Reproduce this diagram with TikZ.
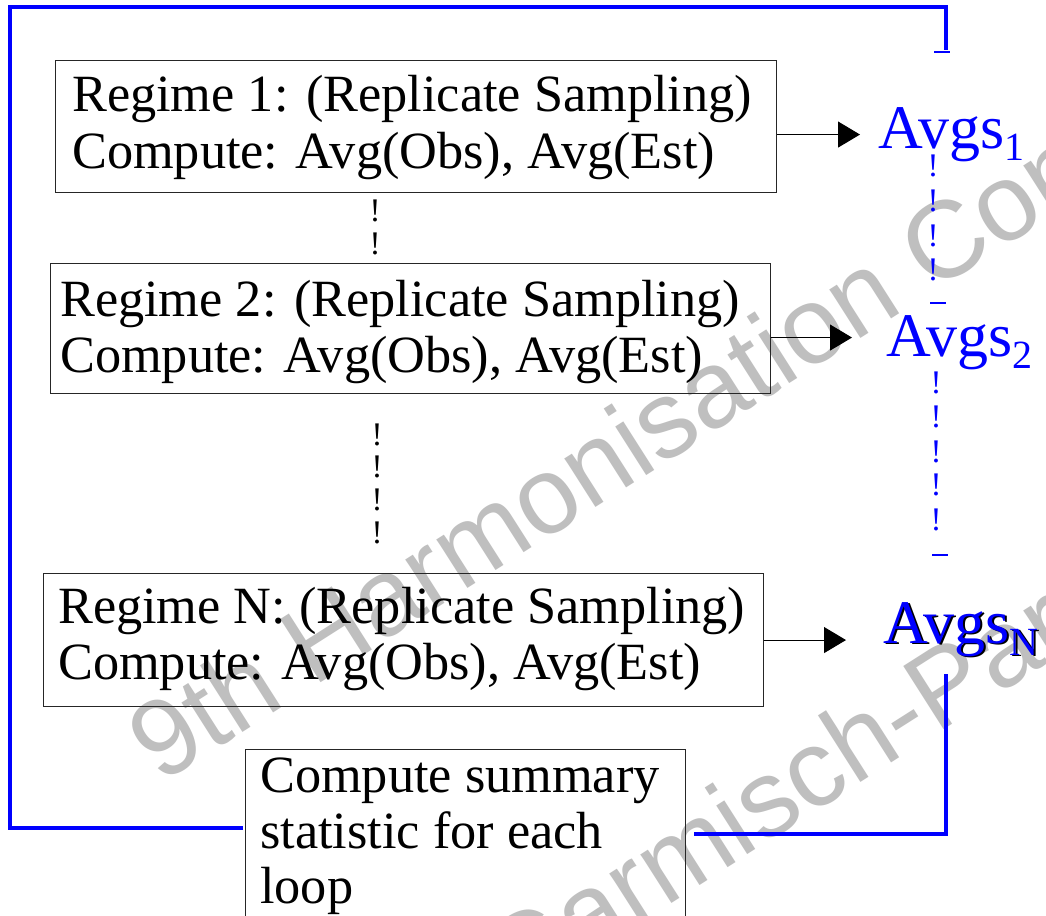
\documentclass[tikz,border=0pt]{standalone}
\usepackage{fontspec}
\setmainfont{Liberation Serif}
\newfontfamily\wmfont{Liberation Sans}
\usetikzlibrary{arrows.meta}
\definecolor{wmgray}{RGB}{191,191,191}
\definecolor{bblue}{RGB}{0,0,255}
\newcommand\avgsub[1]{\raisebox{-12pt}{\fontsize{40}{40}\selectfont #1}}
\begin{document}
\begin{tikzpicture}[x=1pt,y=-1pt,
  wm/.style={anchor=base west, inner sep=0pt, text=wmgray, rotate=32.5, font=\wmfont\fontsize{109}{109}\selectfont},
  regbox/.style={draw=black!85, line width=1.1pt, anchor=north west, inner sep=0pt},
  txt/.style={anchor=base west, inner sep=0pt, font=\fontsize{52.3}{56}\selectfont},
  avg/.style={anchor=base west, inner sep=0pt, text=bblue, font=\fontsize{62}{62}\selectfont},
  excl/.style={inner sep=0pt, font=\fontsize{33}{33}\selectfont},
  arr/.style={line width=1pt, -{Triangle[length=22pt,width=26pt]}},
  loopline/.style={draw=bblue, line width=3.5pt, line join=miter},
  bar/.style={draw=bblue, line width=1.8pt}]
\fill[white] (0,0) rectangle (1046,915);
\useasboundingbox (0,0) rectangle (1046,915);
% watermark
\begin{scope}
\clip (0,0) rectangle (1046,915);
\node[wm] (wm1) at (160,785) {9th Harmonisation Conference};
\node[wm] (wm2) at (512,1005) {Garmisch-Partenkirchen};
\end{scope}
% boxes
\node[regbox, minimum width=721pt, minimum height=132pt] (b1) at (55,60) {};
\node[regbox, minimum width=720pt, minimum height=130pt] (b2) at (50,263) {};
\node[regbox, minimum width=720pt, minimum height=133pt] (bN) at (43,573) {};
\node[regbox, minimum width=440pt, minimum height=220pt] (sum) at (245,749) {};
% texts
\node[txt] (t1a) at (72,112) {Regime 1: (Replicate Sampling)};
\node[txt] (t1b) at (72,168) {Compute: Avg(Obs), Avg(Est)};
\node[txt] (t2a) at (60,316) {Regime 2: (Replicate Sampling)};
\node[txt] (t2b) at (60,372) {Compute: Avg(Obs), Avg(Est)};
\node[txt] (tNa) at (58,623) {Regime N: (Replicate Sampling)};
\node[txt] (tNb) at (58,679) {Compute: Avg(Obs), Avg(Est)};
\node[txt] (s1) at (260,792) {Compute summary};
\node[txt] (s2) at (260,848) {statistic for each};
\node[txt] (s3) at (260,903) {loop};
% averages
\node[avg] (a1) at (878,148) {Avgs\avgsub{1}};
\node[avg] (a2) at (886,356) {Avgs\avgsub{2}};
\node[avg, text=black] (aNs) at (885,644) {Avgs\avgsub{N}};
\node[avg] (aN) at (883,643) {Avgs\avgsub{N}};
% arrows
\draw[arr, shorten >=18pt] ([yshift=-8pt]b1.east) -- ([yshift=-8pt]b1.east -| a1.west);
\draw[arr, shorten >=34pt] ([yshift=-9pt]b2.east) -- ([yshift=-9pt]b2.east -| a2.west);
\draw[arr, shorten >=37pt] (bN.east) -- (bN.east -| aN.west);
% vertical ellipses (black)
\node[excl] (e1) at (375,211) {!};
\node[excl] (e2) at (375,244) {!};
\node[excl] (e3) at (377,435) {!};
\node[excl] (e4) at (377,467) {!};
\node[excl] (e5) at (377,500) {!};
\node[excl] (e6) at (377,533) {!};
% vertical ellipses (blue)
\node[excl, text=bblue] (f1) at (933,166) {!};
\node[excl, text=bblue] (f2) at (933,201) {!};
\node[excl, text=bblue] (f3) at (933,236) {!};
\node[excl, text=bblue] (f4) at (933,270) {!};
\node[excl, text=bblue] (g1) at (936,383) {!};
\node[excl, text=bblue] (g2) at (936,417) {!};
\node[excl, text=bblue] (g3) at (936,452) {!};
\node[excl, text=bblue] (g4) at (936,485) {!};
\node[excl, text=bblue] (g5) at (936,520) {!};
\coordinate (bar1) at (942,52);
\coordinate (bar2) at (938,303);
\coordinate (bar3) at (940,555);
\draw[bar] ([xshift=-8pt]bar1) -- ([xshift=8pt]bar1);
\draw[bar] ([xshift=-8pt]bar2) -- ([xshift=8pt]bar2);
\draw[bar] ([xshift=-8pt]bar3) -- ([xshift=8pt]bar3);
% feedback loop
\coordinate (lA) at (243,828);
\coordinate (lB) at (10,828);
\coordinate (lC) at (10,7);
\coordinate (lD) at (946,7);
\coordinate (lE) at (946,50);
\draw[loopline] (lA) -- (lB) -- (lC) -- (lD) -- (lE);
\coordinate (rA) at (946,674);
\coordinate (rB) at (946,834);
\coordinate (rC) at (694,834);
\draw[loopline] (rA) -- (rB) -- (rC);
\end{tikzpicture}
\end{document}
